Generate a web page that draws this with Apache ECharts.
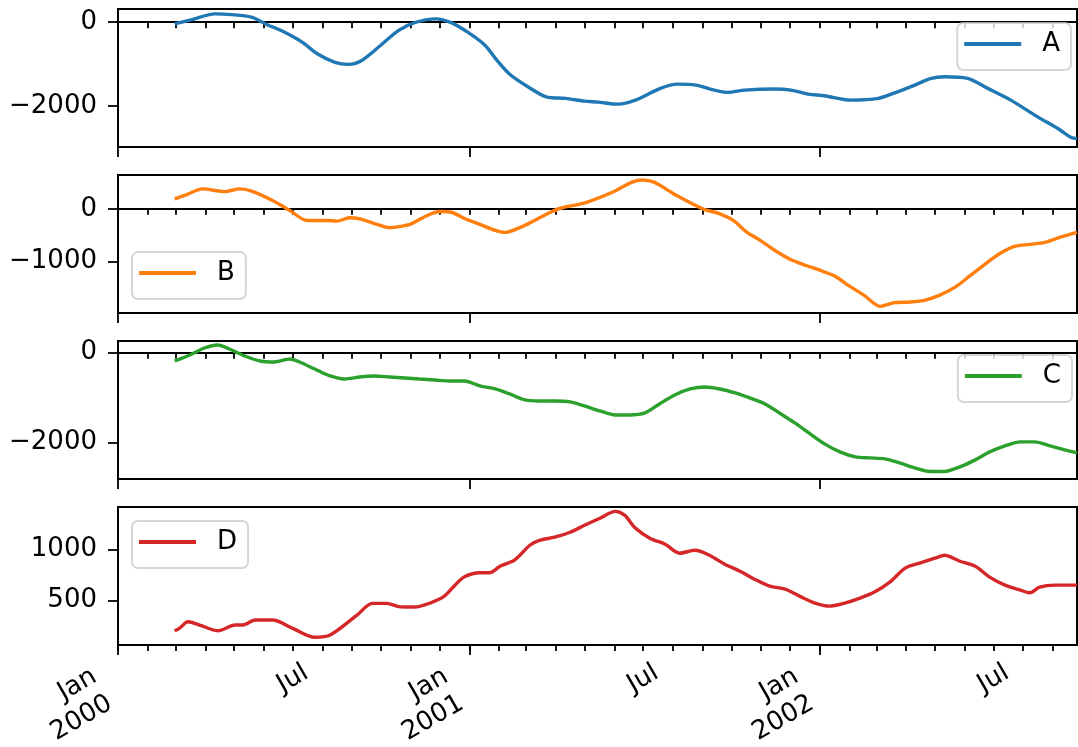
<!DOCTYPE html>
<html><head><meta charset="utf-8">
<script src="https://cdn.jsdelivr.net/npm/echarts@6/dist/echarts.min.js"></script>
<style>html,body{margin:0;padding:0;background:#fff}#c{width:1078px;height:747px}</style>
</head><body><div id="c"></div>
<script>
const seriesNames = ['A', 'B', 'C', 'D'];
const colors = ['#1f77b4', '#ff7f0e', '#2ca02c', '#d62728'];

const datesA = ['2000-02-29','2000-03-17','2000-04-11','2000-04-28','2000-05-19','2000-06-05','2000-06-19','2000-07-10','2000-07-27','2000-08-14','2000-08-28','2000-09-10','2000-10-01','2000-10-19','2000-11-05','2000-11-27','2000-12-13','2000-12-31','2001-01-17','2001-01-31','2001-02-13','2001-03-03','2001-03-22','2001-04-11','2001-05-01','2001-05-15','2001-06-05','2001-06-23','2001-07-19','2001-08-06','2001-08-25','2001-09-10','2001-09-27','2001-10-15','2001-11-15','2001-12-02','2001-12-20','2002-01-06','2002-02-02','2002-03-03','2002-03-23','2002-04-10','2002-04-27','2002-05-11','2002-06-04','2002-06-25','2002-07-19','2002-08-16','2002-09-06','2002-09-20','2002-09-26'];
const valuesA = [-41,55,198,182,120,-65,-200,-464,-758,-956,-1004,-925,-543,-200,-10,79,-10,-249,-543,-942,-1260,-1539,-1778,-1816,-1881,-1905,-1953,-1857,-1577,-1475,-1499,-1601,-1673,-1618,-1594,-1618,-1714,-1754,-1857,-1816,-1659,-1499,-1338,-1300,-1338,-1577,-1857,-2256,-2533,-2749,-2772];

const datesB = ['2000-02-29','2000-03-12','2000-03-29','2000-04-21','2000-05-07','2000-05-20','2000-06-10','2000-06-28','2000-07-16','2000-08-06','2000-08-16','2000-08-29','2000-09-09','2000-09-27','2000-10-10','2000-10-21','2000-10-31','2000-11-16','2000-12-01','2000-12-14','2000-12-27','2001-01-12','2001-01-28','2001-02-07','2001-02-23','2001-03-10','2001-03-26','2001-04-05','2001-05-03','2001-05-30','2001-06-19','2001-06-30','2001-07-13','2001-08-05','2001-09-01','2001-09-19','2001-10-03','2001-10-17','2001-10-31','2001-11-15','2001-12-01','2001-12-17','2002-01-01','2002-01-17','2002-02-01','2002-02-16','2002-03-05','2002-03-20','2002-04-05','2002-04-21','2002-05-06','2002-05-22','2002-06-06','2002-06-22','2002-07-08','2002-07-23','2002-08-08','2002-08-24','2002-09-08','2002-09-26'];
const valuesB = [190,266,380,328,380,334,158,-32,-222,-222,-235,-171,-190,-298,-361,-336,-298,-146,-51,-70,-184,-298,-412,-450,-355,-222,-70,6,125,315,505,550,505,252,0,-95,-222,-444,-602,-791,-962,-1076,-1171,-1285,-1475,-1646,-1860,-1790,-1778,-1740,-1646,-1494,-1285,-1058,-848,-716,-678,-640,-545,-450];

const datesC = ['2000-02-29','2000-03-16','2000-03-31','2000-04-14','2000-04-26','2000-05-12','2000-05-28','2000-06-12','2000-06-28','2000-07-08','2000-07-24','2000-08-09','2000-08-24','2000-09-09','2000-09-24','2000-10-10','2000-10-26','2000-11-10','2000-11-26','2000-12-12','2000-12-27','2001-01-12','2001-01-28','2001-02-12','2001-02-28','2001-03-15','2001-03-31','2001-04-16','2001-05-01','2001-05-17','2001-06-02','2001-06-17','2001-07-03','2001-07-18','2001-08-03','2001-08-19','2001-09-03','2001-09-19','2001-10-05','2001-10-20','2001-11-05','2001-11-20','2001-12-06','2001-12-22','2002-01-06','2002-01-22','2002-02-07','2002-02-22','2002-03-10','2002-03-25','2002-04-10','2002-04-26','2002-05-11','2002-05-27','2002-06-12','2002-06-27','2002-07-13','2002-07-29','2002-08-13','2002-08-29','2002-09-13','2002-09-26'];
const valuesC = [-184,-51,104,171,82,-73,-184,-206,-140,-206,-362,-517,-584,-539,-517,-539,-562,-584,-606,-628,-628,-739,-806,-917,-1050,-1072,-1072,-1094,-1183,-1294,-1383,-1383,-1339,-1139,-939,-806,-761,-806,-895,-1006,-1139,-1339,-1561,-1805,-2027,-2204,-2315,-2338,-2360,-2449,-2560,-2640,-2640,-2537,-2382,-2204,-2071,-1982,-1982,-2071,-2160,-2227];

const datesD = ['2000-02-29','2000-03-05','2000-03-14','2000-03-26','2000-04-14','2000-05-02','2000-05-10','2000-05-23','2000-06-10','2000-07-01','2000-07-24','2000-08-09','2000-09-06','2000-09-22','2000-10-07','2000-10-21','2000-11-05','2000-11-21','2000-12-06','2000-12-17','2000-12-27','2001-01-12','2001-01-22','2001-02-02','2001-02-17','2001-03-05','2001-03-15','2001-03-31','2001-04-16','2001-05-01','2001-05-17','2001-06-02','2001-06-12','2001-06-22','2001-07-08','2001-07-24','2001-08-08','2001-08-24','2001-09-08','2001-09-24','2001-10-10','2001-10-25','2001-11-10','2001-11-26','2001-12-11','2001-12-27','2002-01-11','2002-01-27','2002-02-12','2002-02-27','2002-03-15','2002-03-31','2002-04-15','2002-05-01','2002-05-11','2002-05-27','2002-06-12','2002-06-27','2002-07-13','2002-07-29','2002-08-08','2002-08-18','2002-09-03','2002-09-26'];
const valuesD = [202,226,290,258,202,258,258,307,307,226,138,160,356,471,471,437,435,474,542,650,733,772,772,836,895,1042,1091,1121,1170,1238,1307,1375,1336,1219,1111,1052,964,993,944,856,787,709,640,611,542,474,444,474,523,582,680,817,866,915,944,885,836,729,650,601,575,630,650,650];

const yTickValues = [[-2000, 0], [-1000, 0], [-2000, 0], [500, 1000]];
const yLimits = [[-2975, 315], [-1987, 645], [-2807, 260], [62, 1418]];
const xStart = '2000-01-01', xEnd = '2002-09-26';
const labelDates = ['2000-01-01', '2000-07-01', '2001-01-01', '2001-07-01', '2002-01-01', '2002-07-01'];
const labelTexts = ['Jan\n2000', 'Jul', 'Jan\n2001', 'Jul', 'Jan\n2002', 'Jul'];

const allDates = [datesA, datesB, datesC, datesD];
const allValues = [valuesA, valuesB, valuesC, valuesD];

const t = s => Date.parse(s);
const xmin = t(xStart), xmax = t(xEnd);
const monthTicks = [];
for (let y = 2000; y <= 2002; y++) for (let m = 0; m < 12; m++) {
  const v = Date.UTC(y, m, 1);
  if (v >= xmin && v <= xmax) monthTicks.push(v);
}
const janTicks = monthTicks.filter(v => new Date(v).getUTCMonth() === 0);
const labelMap = {};
labelDates.forEach((d, i) => { labelMap[t(d)] = labelTexts[i]; });
const janLabels = labelDates.filter(d => d.slice(5, 7) === '01').map(t);
const julLabels = labelDates.filter(d => d.slice(5, 7) === '07').map(t);

const FONT = 'DejaVu Sans';
const FS = 26;
const tops = [9, 175, 341, 507];
const H = 138;
const legendPos = [
  { right: 7, top: 23 },
  { left: 132, top: 252 },
  { right: 6, top: 355 },
  { left: 132, top: 521 }
];

const grid = [], xAxis = [], yAxis = [], series = [], legend = [];
seriesNames.forEach((name, i) => {
  grid.push({ left: 118, right: 1, top: tops[i], height: H, show: true, borderColor: '#000', borderWidth: 2, containLabel: false, outerBoundsMode: 'none' });
  const lab = {
    show: i === 3, rotate: 30,
    fontSize: FS, fontFamily: FONT, color: '#000', lineHeight: 31,
    formatter: v => labelMap[v] || '', hideOverlap: false
  };
  xAxis.push({
    type: 'value', gridIndex: i, min: xmin, max: xmax, position: 'bottom',
    axisLine: { show: true, lineStyle: { color: '#000', width: 2 } },
    splitLine: { show: false },
    axisTick: { show: true, customValues: monthTicks, length: 6, lineStyle: { color: '#000', width: 1.8 } },
    axisLabel: Object.assign({}, lab, { customValues: janLabels, margin: 70, align: 'right', verticalAlign: 'bottom' })
  });
  xAxis.push({
    type: 'value', gridIndex: i, min: xmin, max: xmax, position: 'bottom',
    axisLine: { show: false }, splitLine: { show: false },
    axisTick: { show: true, customValues: janTicks, length: 10, lineStyle: { color: '#000', width: 1.8 } },
    axisLabel: Object.assign({}, lab, { customValues: julLabels, margin: 34, align: 'center', verticalAlign: 'middle' })
  });
  yAxis.push({
    type: 'value', gridIndex: i, min: yLimits[i][0], max: yLimits[i][1],
    axisLine: { show: true, lineStyle: { color: '#000', width: 2 } },
    splitLine: { show: false },
    axisTick: { show: true, customValues: yTickValues[i], length: 10, lineStyle: { color: '#000', width: 1.8 } },
    axisLabel: {
      customValues: yTickValues[i], fontSize: FS, fontFamily: FONT, color: '#000', margin: 21,
      formatter: v => (v < 0 ? '\u2212' + Math.abs(v) : String(v))
    }
  });
  series.push({
    type: 'line', name, xAxisIndex: 2 * i, yAxisIndex: i,
    data: allDates[i].map((d, k) => [t(d), allValues[i][k]]),
    symbol: 'none', showSymbol: false, smooth: 0.3,
    lineStyle: { width: 3.4, color: colors[i] }, itemStyle: { color: colors[i] }
  });
  legend.push(Object.assign({
    data: [name], orient: 'vertical', icon: 'rect',
    backgroundColor: 'rgba(255,255,255,0.8)', borderColor: 'rgba(204,204,204,0.8)', borderWidth: 2, borderRadius: 6,
    padding: [8, 11, 13, 7], itemWidth: 57, itemHeight: 4,
    textStyle: { fontSize: FS, fontFamily: FONT, color: '#000', padding: [0, 0, 0, 16] }
  }, legendPos[i]));
});

const chart = echarts.init(document.getElementById('c'), null, { renderer: 'canvas' });
chart.setOption({ animation: false, backgroundColor: '#fff', grid, xAxis, yAxis, series, legend });
</script>
</body></html>
